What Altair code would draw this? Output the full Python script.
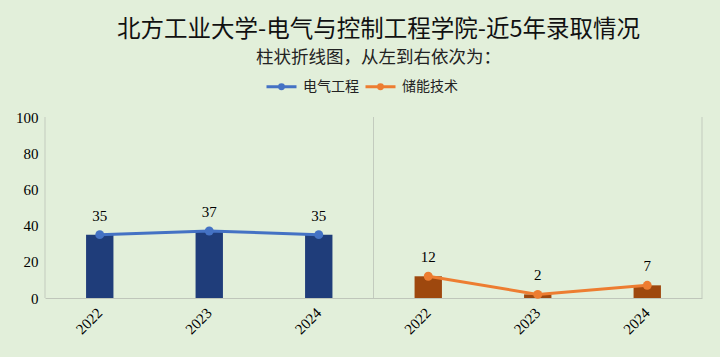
import altair as alt
import pandas as pd

groups = ["电气工程", "储能技术"]
years = ["2022", "2023", "2024"]
ee_values = [35, 37, 35]
es_values = [12, 2, 7]
line_colors = ["#4472C4", "#ED7D31"]
bar_colors = ["#1F3D7A", "#9E480E"]

rows = []
for g, vals in zip(groups, [ee_values, es_values]):
    for yr, v in zip(years, vals):
        rows.append({"group": g, "year": yr, "key": f"{g}|{yr}", "value": v})
df = pd.DataFrame(rows)
keys = list(df["key"])

sep_start = pd.DataFrame({"key": [f"{g}|{years[0]}" for g in groups]})
sep_end = pd.DataFrame({"key": [f"{groups[-1]}|{years[-1]}"]})

xscale = alt.Scale(domain=keys, paddingInner=0, paddingOuter=0)
x = alt.X(
    "key:N",
    scale=xscale,
    sort=keys,
    axis=alt.Axis(
        title=None,
        labelExpr="split(datum.label, '|')[1]",
        labelAngle=-45,
        labelAlign="right",
        labelBaseline="middle",
        labelPadding=12,
        labelOverlap=False,
    ),
)
y = alt.Y(
    "value:Q",
    scale=alt.Scale(domain=[0, 100], nice=False),
    axis=alt.Axis(title=None, tickCount=5, labelPadding=7, labelOverlap=False),
)

legend_symbol = "M -1 0 L 1 0 M 0.13 0 A 0.13 0.13 0 1 1 -0.13 0 A 0.13 0.13 0 1 1 0.13 0"
color = alt.Color(
    "group:N",
    scale=alt.Scale(domain=groups, range=line_colors),
    legend=alt.Legend(
        title=None,
        orient="none",
        direction="horizontal",
        legendX=220,
        legendY=-47,
    ),
)
bar_fill = alt.condition(
    alt.datum.group == groups[0], alt.value(bar_colors[0]), alt.value(bar_colors[1])
)

base = alt.Chart(df)
bars = base.mark_bar(width=alt.RelativeBandSize(0.25)).encode(x=x, y=y, fill=bar_fill)
lines = base.mark_line(strokeWidth=3).encode(x=x, y=y, color=color)
points = base.mark_circle(size=80, opacity=1).encode(x=x, y=y, color=color)
labels = base.mark_text(
    dy=-19, baseline="middle", font="Liberation Serif", fontSize=15, color="#000000"
).encode(x=x, y=y, text="value:Q")

rules_start = alt.Chart(sep_start).mark_rule(color="#C3CBBE", strokeWidth=1).encode(
    x=alt.X("key:N", bandPosition=0),
    y=alt.datum(100),
    y2=alt.datum(0),
)
rules_end = alt.Chart(sep_end).mark_rule(color="#C3CBBE", strokeWidth=1).encode(
    x=alt.X("key:N", bandPosition=1),
    y=alt.datum(100),
    y2=alt.datum(0),
)

chart = (
    alt.layer(bars, lines, points, labels, rules_start, rules_end)
    .properties(
        width=657,
        height=181,
        padding={"left": 45, "top": 117, "right": 18, "bottom": 59},
        autosize=alt.AutoSizeParams(type="none"),
        title=alt.Title(
            text="北方工业大学-电气与控制工程学院-近5年录取情况",
            subtitle="柱状折线图，从左到右依次为：",
            font="Noto Sans CJK SC",
            fontSize=23.5,
            fontWeight="normal",
            subtitleFont="Noto Sans CJK SC",
            subtitleFontSize=17.5,
            subtitleColor="#222222",
            color="#111111",
            anchor="middle",
            frame="group",
            dx=5,
            offset=4,
            subtitlePadding=7,
        ),
    )
    .configure(background="#E2EFDA")
    .configure_view(stroke=None)
    .configure_axis(
        labelFlush=False,
        ticks=False,
        grid=False,
        labelFont="Liberation Serif",
        labelFontSize=15,
        labelColor="#000000",
    )
    .configure_axisX(domainColor="#BFC6BA")
    .configure_axisY(domain=False)
    .configure_legend(
        symbolType=legend_symbol,
        symbolSize=900,
        symbolStrokeWidth=3,
        labelFont="Noto Sans CJK SC",
        labelFontSize=14,
        labelColor="#222222",
        columnPadding=0,
        labelOffset=5,
    )
)

chart.save("out.html", embed_options={"renderer": "svg", "actions": False})
